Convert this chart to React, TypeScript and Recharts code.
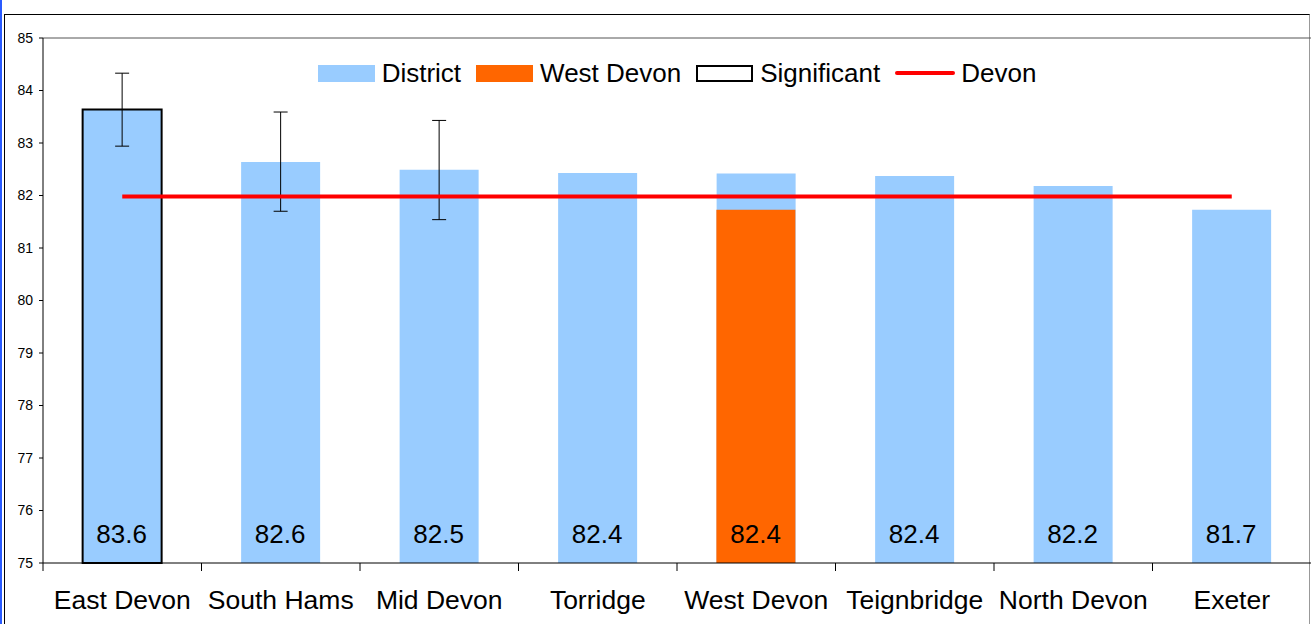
import {
  ComposedChart,
  Bar,
  Line,
  XAxis,
  YAxis,
  ErrorBar,
  Cell,
  LabelList,
  Legend,
  ReferenceLine,
} from "recharts";

const FONT = "Arial, 'Liberation Sans', sans-serif";

const categories = [
  "East Devon",
  "South Hams",
  "Mid Devon",
  "Torridge",
  "West Devon",
  "Teignbridge",
  "North Devon",
  "Exeter",
];
const districtValues = [83.64, 82.64, 82.49, 82.43, 82.42, 82.37, 82.18, 81.73];
const westDevonValues = [null, null, null, null, 81.73, null, null, null];
const lowerCI = [82.94, 81.7, 81.54, null, null, null, null, null];
const upperCI = [84.33, 83.59, 83.43, null, null, null, null, null];
const significant = [true, false, false, false, false, false, false, false];
const devonValue = 81.98;
const yTicks = [75, 76, 77, 78, 79, 80, 81, 82, 83, 84, 85];

const data = categories.map((name, i) => {
  const lo = lowerCI[i];
  const hi = upperCI[i];
  return {
    name,
    district: districtValues[i],
    westDevon: westDevonValues[i],
    label: districtValues[i],
    devon: devonValue,
    err:
      lo != null && hi != null
        ? [districtValues[i] - lo, hi - districtValues[i]]
        : null,
  };
});

function CategoryTick(props: any) {
  const { x, y, payload, width } = props;
  const band = (typeof width === "number" && width > 0 ? width : 1268) / categories.length;
  const left = x - band / 2;
  return (
    <g>
      <line x1={left} y1={y - 8} x2={left} y2={y} stroke="#000" />
      <text
        x={x}
        y={y + 19}
        dy="0.71em"
        textAnchor="middle"
        fontSize={26.5}
        fontFamily={FONT}
        fill="#000"
      >
        {payload.value}
      </text>
    </g>
  );
}

function ValueLabel(props: any) {
  const { x, y, width, height, value } = props;
  if (value == null) return null;
  return (
    <text
      x={x + width / 2}
      y={y + height - 20}
      textAnchor="middle"
      fontSize={26}
      fontFamily={FONT}
      fill="#000"
    >
      {Number(value).toFixed(1)}
    </text>
  );
}

function Swatch({ color, border }: { color: string; border?: boolean }) {
  return (
    <span
      style={{
        display: "inline-block",
        width: 57,
        height: 17,
        boxSizing: "border-box",
        background: color,
        border: border ? "2px solid #000" : "none",
        marginRight: 7,
      }}
    />
  );
}

function ChartLegend() {
  const item = { display: "flex", alignItems: "center", marginRight: 15 };
  return (
    <div
      style={{
        display: "flex",
        justifyContent: "center",
        alignItems: "center",
        fontFamily: FONT,
        fontSize: 26,
        lineHeight: "26px",
        color: "#000",
      }}
    >
      <span style={item}>
        <Swatch color="#99CCFF" />
        District
      </span>
      <span style={item}>
        <Swatch color="#FF6600" />
        West Devon
      </span>
      <span style={item}>
        <Swatch color="#FFFFFF" border />
        Significant
      </span>
      <span style={{ ...item, marginRight: 0 }}>
        <span
          style={{
            display: "inline-block",
            width: 60,
            height: 4,
            borderRadius: 2,
            background: "#FF0000",
            marginRight: 6,
          }}
        />
        Devon
      </span>
    </div>
  );
}

export default function App() {
  return (
    <div
      style={{
        position: "absolute",
        left: 0,
        top: 0,
        width: 1311,
        height: 624,
        overflow: "hidden",
        background: "#fff",
      }}
    >
      <div
        style={{
          position: "absolute",
          left: 0,
          top: 0,
          width: 2,
          height: 624,
          background: "#2a5bff",
        }}
      />
      <div
        style={{
          position: "absolute",
          left: 4,
          top: 14,
          width: 1306,
          height: 700,
          borderTop: "1px solid #000",
          borderLeft: "1px solid #000",
          borderRight: "1px solid #999",
          boxSizing: "border-box",
        }}
      />
      <ComposedChart
        width={1311}
        height={624}
        data={data}
        margin={{ top: 38, right: 0, bottom: 0, left: 0 }}
        barCategoryGap="25%"
        barGap="-50%"
        style={{ position: "absolute", left: 0, top: 0 }}
      >
        <XAxis
          dataKey="name"
          height={61}
          axisLine={{ stroke: "#000" }}
          tickLine={false}
          tickSize={8}
          tickMargin={0}
          interval={0}
          tick={<CategoryTick />}
        />
        <YAxis
          width={43}
          domain={[75, 85]}
          ticks={yTicks}
          interval={0}
          axisLine={{ stroke: "#000" }}
          tickLine={{ stroke: "#000" }}
          tickSize={4}
          tickMargin={6}
          tick={{ fontSize: 14, fill: "#000", fontFamily: FONT }}
        />
        <ReferenceLine y={85} stroke="#555" />
        <Legend
          verticalAlign="middle"
          content={<ChartLegend />}
          wrapperStyle={{ position: "absolute", top: 60, left: 43, width: 1268 }}
        />
        <Bar dataKey="district" fill="#99CCFF" isAnimationActive={false}>
          {data.map((_, i) => (
            <Cell
              key={`cell-${i}`}
              fill="#99CCFF"
              stroke={significant[i] ? "#000" : "none"}
              strokeWidth={significant[i] ? 2 : 0}
            />
          ))}
          <ErrorBar dataKey="err" width={7} stroke="#000" strokeWidth={1} direction="y" />
        </Bar>
        <Bar dataKey="westDevon" fill="#FF6600" isAnimationActive={false} />
        <Bar dataKey="label" fill="none" isAnimationActive={false}>
          <LabelList dataKey="label" content={<ValueLabel />} />
        </Bar>
        <Line
          dataKey="devon"
          stroke="#FF0000"
          strokeWidth={4}
          dot={false}
          activeDot={false}
          isAnimationActive={false}
        />
      </ComposedChart>
    </div>
  );
}
